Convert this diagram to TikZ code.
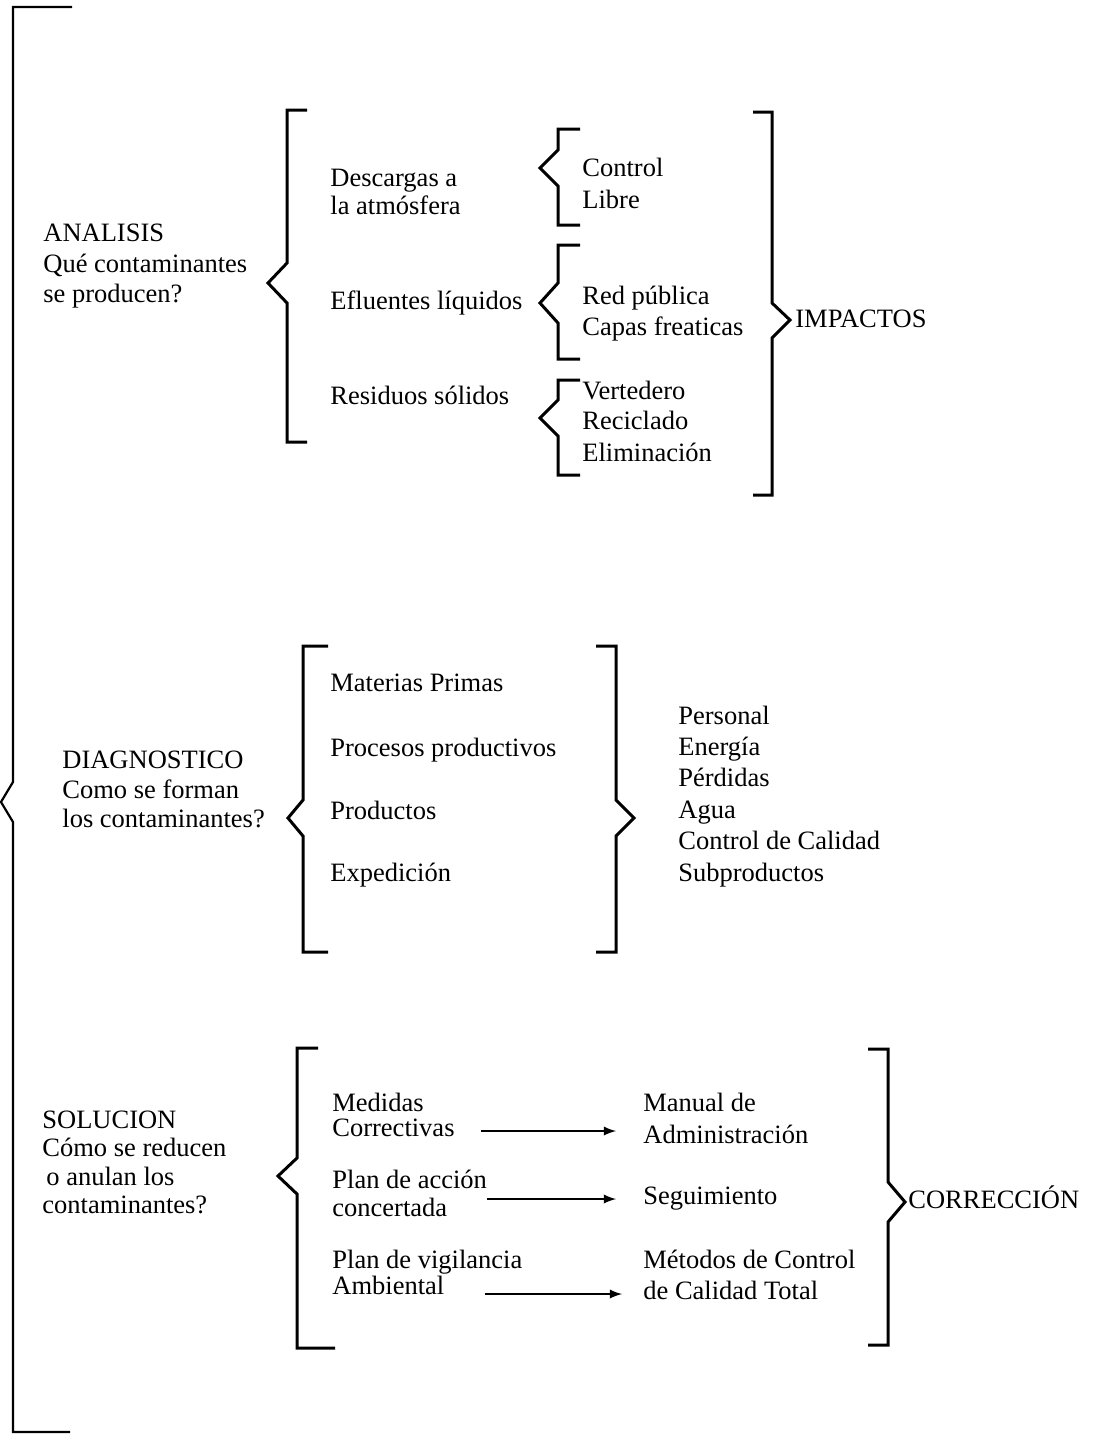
\documentclass[tikz,border=0pt]{standalone}
\usepackage{fontspec}
\setmainfont{Liberation Serif}
\usetikzlibrary{arrows}

\begin{document}
\begin{tikzpicture}[x=0.5pt, y=-0.5pt]

\tikzstyle{entry}=[anchor=west, inner sep=0pt, text height=0.72em, text depth=0.22em, font=\fontsize{13.25}{15}\selectfont]
\tikzstyle{brk}=[line width=1.5pt, line join=miter]
\tikzstyle{bigbrk}=[line width=1.1pt]
\tikzstyle{connect}=[-latex, line width=1.1pt]

\useasboundingbox (0,0) rectangle (1097,1441);

% big bracket
\draw[bigbrk] (72,7) -- (13,7) -- (13,782) -- (1,802) -- (13,822) -- (13,1432) -- (70,1432);

% analisis
\node[entry] (analisis) at (43,236) {ANALISIS};
\node[entry] (q1) at (43,267) {Qué contaminantes};
\node[entry] (q2) at (43,297) {se producen?};

\draw[brk] (307,110) -- (287,110) -- (287,263) -- (268,283) -- (287,303) -- (287,442) -- (307,442);

\node[entry] (desc1) at (330,181) {Descargas a};
\node[entry] (desc2) at (330,209) {la atmósfera};
\node[entry] (eflu) at (330,304) {Efluentes líquidos};
\node[entry] (resid) at (330,399) {Residuos sólidos};

\draw[brk] (580,129) -- (558,129) -- (558,150) -- (540,168) -- (558,186) -- (558,225) -- (580,225);
\draw[brk] (580,245) -- (558,245) -- (558,283) -- (540,303) -- (558,323) -- (558,359) -- (580,359);
\draw[brk] (580,380) -- (558,380) -- (558,400) -- (540,418) -- (558,436) -- (558,475) -- (580,475);

\node[entry] (control) at (582,171) {Control};
\node[entry] (libre) at (582,203) {Libre};
\node[entry] (red) at (582,299) {Red pública};
\node[entry] (capas) at (582,330) {Capas freaticas};
\node[entry] (verted) at (582,394) {Vertedero};
\node[entry] (recic) at (582,424) {Reciclado};
\node[entry] (elim) at (582,456) {Eliminación};

\draw[brk] (753,112) -- (772,112) -- (772,303) -- (790,320) -- (772,338) -- (772,495) -- (753,495);
\node[entry] (impactos) at (795,322) {IMPACTOS};

% diagnostico
\node[entry] (diag) at (62,763) {DIAGNOSTICO};
\node[entry] (diag1) at (62,793) {Como se forman};
\node[entry] (diag2) at (62,822) {los contaminantes?};

\draw[brk] (328,646) -- (303,646) -- (303,800) -- (288,818) -- (303,836) -- (303,952) -- (328,952);

\node[entry] (materias) at (330,686) {Materias Primas};
\node[entry] (procesos) at (330,751) {Procesos productivos};
\node[entry] (productos) at (330,814) {Productos};
\node[entry] (expedicion) at (330,876) {Expedición};

\draw[brk] (596,646) -- (616,646) -- (616,800) -- (634,818) -- (616,836) -- (616,952) -- (596,952);

\node[entry] (personal) at (678,719) {Personal};
\node[entry] (energia) at (678,750) {Energía};
\node[entry] (perdidas) at (678,781) {Pérdidas};
\node[entry] (agua) at (678,813) {Agua};
\node[entry] (calidad) at (678,844) {Control de Calidad};
\node[entry] (subprod) at (678,876) {Subproductos};

% solucion
\node[entry] (sol) at (42,1123) {SOLUCION};
\node[entry] (sol1) at (42,1151) {Cómo se reducen};
\node[entry] (sol2) at (46,1180) {o anulan los};
\node[entry] (sol3) at (42,1208) {contaminantes?};

\draw[brk] (318,1048) -- (297,1048) -- (297,1158) -- (278,1176) -- (297,1194) -- (297,1348) -- (335,1348);

\node[entry] (medidas) at (332,1106) {Medidas};
\node[entry] (correct) at (332,1131) {Correctivas};
\node[entry] (plan1) at (332,1183) {Plan de acción};
\node[entry] (plan2) at (332,1211) {concertada};
\node[entry] (vig1) at (332,1263) {Plan de vigilancia};
\node[entry] (vig2) at (332,1289) {Ambiental};

\node[entry] (manual) at (643,1106) {Manual de};
\node[entry] (admin) at (643,1138) {Administración};
\node[entry] (seguim) at (643,1199) {Seguimiento};
\node[entry] (metodos) at (643,1263) {Métodos de Control};
\node[entry] (calidadt) at (643,1294) {de Calidad Total};

\path[connect, shorten <=13pt, shorten >=13.5pt] (correct.east) edge (correct.east -| manual.west);
\path[connect, shorten >=13.5pt] (plan1.east |- seguim.west) edge (seguim.west);
\path[connect, shorten <=20pt, shorten >=10.5pt] (vig2.east |- calidadt.west) edge (calidadt.west);

\draw[brk] (868,1049) -- (888,1049) -- (888,1182) -- (905,1202) -- (888,1222) -- (888,1345) -- (868,1345);
\node[entry] (correccion) at (908,1203) {CORRECCIÓN};

\end{tikzpicture}
\end{document}
